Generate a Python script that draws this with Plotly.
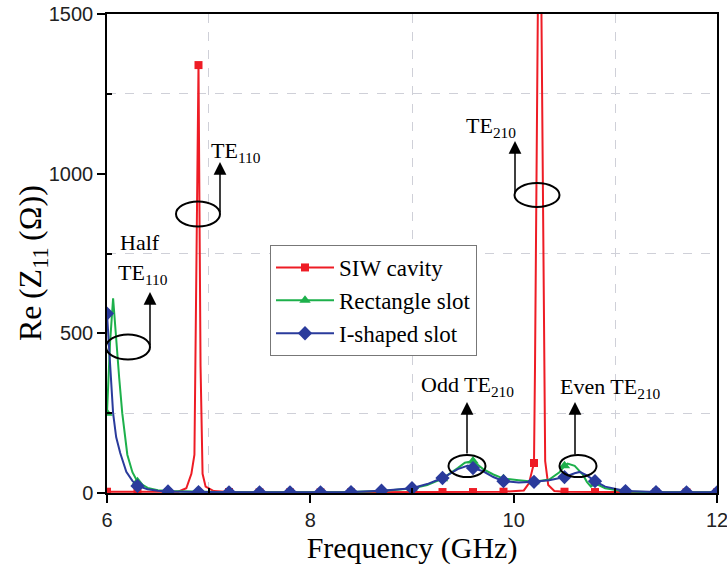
import plotly.graph_objects as go

# ---------------- data ----------------
siw_f = [6.0, 6.3, 6.6, 6.7, 6.78, 6.83, 6.86, 6.9, 6.92, 6.94, 6.97, 7.05, 7.2, 7.5, 7.8, 8.1, 8.4, 8.7,
         9.0, 9.3, 9.6, 9.9, 10.1, 10.15, 10.2, 10.21, 10.255, 10.3, 10.31, 10.34, 10.4, 10.5, 10.8,
         11.1, 11.4, 11.7, 12.0]
siw_v = [4, 3, 2, 4, 15, 60, 120, 1340, 400, 60, 20, 6, 3, 2, 2, 2, 2, 2,
         2, 3, 3, 4, 8, 30, 94, 400, 2200, 400, 100, 25, 6, 4, 3,
         2, 2, 2, 2]

rect_f = [6.0, 6.03, 6.06, 6.09, 6.12, 6.15, 6.2, 6.25, 6.3, 6.4, 6.5, 6.6, 6.9, 7.2, 7.5, 7.8, 8.1, 8.4,
          8.7, 9.0, 9.15, 9.3, 9.45, 9.52, 9.6, 9.7, 9.8, 9.9, 10.05, 10.2, 10.35, 10.45, 10.5, 10.53,
          10.6, 10.68, 10.72, 10.76, 10.8, 10.9, 11.1, 11.4, 11.7, 12.0]
rect_v = [250, 470, 610, 470, 360, 250, 120, 65, 35, 16, 9, 6, 3, 2, 2, 2, 2, 3,
          6, 14, 25, 45, 78, 95, 100, 75, 58, 45, 40, 35, 42, 65, 85, 92,
          85, 58, 35, 20, 30, 15, 5, 2, 2, 2]

ish_f = [6.0, 6.03, 6.06, 6.09, 6.13, 6.19, 6.25, 6.3, 6.4, 6.5, 6.6, 6.9, 7.2, 7.5, 7.8, 8.1, 8.4,
         8.7, 9.0, 9.15, 9.3, 9.45, 9.55, 9.6, 9.7, 9.8, 9.9, 10.05, 10.2, 10.35, 10.5, 10.6, 10.65,
         10.72, 10.8, 10.9, 11.1, 11.4, 11.7, 12.0]
ish_v = [562, 406, 250, 175, 125, 66, 38, 22, 12, 7, 5, 3, 2, 2, 2, 2, 3,
         7, 15, 28, 47, 75, 86, 78, 68, 50, 37, 33, 35, 40, 50, 62, 66,
         55, 37, 20, 6, 3, 2, 2]

marker_f = [round(6.0 + 0.3 * k, 1) for k in range(21)]

x_ticks = [6, 8, 10, 12]
y_ticks = [0, 500, 1000, 1500]

series = [
    ("SIW cavity", siw_f, siw_v, "#ee1c25", "square", 8),
    ("Rectangle slot", rect_f, rect_v, "#1db04b", "triangle-up", 10),
    ("I-shaped slot", ish_f, ish_v, "#2a3b9c", "diamond", 11),
]

fig = go.Figure()
for name, f, v, col, sym, ms in series:
    fig.add_trace(go.Scatter(x=f, y=v, mode="lines", line=dict(color=col, width=2),
                             showlegend=False, hoverinfo="skip"))
    mx = [a for a in f if round(a, 2) in marker_f]
    my = [b for a, b in zip(f, v) if round(a, 2) in marker_f]
    fig.add_trace(go.Scatter(x=mx, y=my, mode="markers",
                             marker=dict(color=col, symbol=sym, size=ms), showlegend=False))
    fig.add_trace(go.Scatter(x=[None], y=[None], mode="lines+markers", name=name,
                             line=dict(color=col, width=2),
                             marker=dict(color=col, symbol=sym, size=ms)))

# ---------------- layout helpers (pixel -> data / paper) ----------------
W, H = 727, 573
L, R, T, B = 107, 717, 14, 493
def px_x(p):
    return 6 + (p - L) / (R - L) * 6
def px_y(p):
    return (B - p) / (B - T) * 1500

serif = "Liberation Serif, Times New Roman, serif"

ellipses = [(128, 347, 44, 25), (198, 214, 44, 25), (537, 195, 45, 24),
            (467, 466, 37, 22), (578, 466, 37, 22)]
for cx, cy, w, h in ellipses:
    fig.add_shape(type="circle", xref="x", yref="y",
                  x0=px_x(cx - w / 2), x1=px_x(cx + w / 2),
                  y0=px_y(cy + h / 2), y1=px_y(cy - h / 2),
                  line=dict(color="black", width=2))

# arrows: (x, tail_y, tip_y)
arrows = [(150, 347, 292), (220, 214, 162), (515, 195, 141), (467, 455, 402), (575, 456, 402)]
for ax_, y0, y1 in arrows:
    fig.add_annotation(x=px_x(ax_), y=px_y(y1), xref="x", yref="y", text="",
                       showarrow=True, ax=0, ay=(y0 - y1), axref="pixel", ayref="pixel",
                       arrowhead=2, arrowsize=1.7, arrowwidth=1.5, arrowcolor="black")

labels = [
    ("Half", 140, 242),
    ("TE<sub>110</sub>", 143, 274),
    ("TE<sub>110</sub>", 236, 152),
    ("TE<sub>210</sub>", 491, 127),
    ("Odd TE<sub>210</sub>", 467, 386),
    ("Even TE<sub>210</sub>", 610, 388),
]
for txt, x, y in labels:
    fig.add_annotation(x=px_x(x), y=px_y(y), xref="x", yref="y", text=txt, showarrow=False,
                       font=dict(family=serif, size=22, color="black"))

# y-axis title placed as rotated text
fig.add_annotation(x=(32 - L) / (R - L), y=(B - 263) / (B - T), xref="paper", yref="paper",
                   yanchor="middle", xanchor="center",
                   text="Re\u2009(Z<sub>11</sub>\u2009(Ω))", textangle=-90, showarrow=False,
                   font=dict(family=serif, size=32, color="black"))

axis_common = dict(showline=True, linecolor="black", linewidth=1.5, mirror=True,
                   ticks="outside", ticklen=8, tickwidth=1.5, tickcolor="black",
                   showgrid=False, zeroline=False, automargin=False, ticklabeloverflow="allow",
                   tickfont=dict(family="Liberation Sans, Arial, sans-serif", size=20, color="#222222"))

fig.update_xaxes(range=[6, 12], tickvals=x_ticks, ticktext=[str(t) for t in x_ticks],
                 title=dict(text="Frequency (GHz)", font=dict(family=serif, size=30, color="black"),
                            standoff=6),
                 minor=dict(tickvals=[7, 9, 11], ticks="inside", ticklen=5, tickcolor="black",
                            showgrid=True, gridcolor="#cfd0d8", griddash="dash", gridwidth=1),
                 **axis_common)
fig.update_yaxes(range=[0, 1500], tickvals=y_ticks, ticktext=[str(t) for t in y_ticks],
                 minor=dict(tickvals=[250, 750, 1250], ticks="inside", ticklen=5, tickcolor="black",
                            showgrid=True, gridcolor="#cfd0d8", griddash="dash", gridwidth=1),
                 **axis_common)

fig.update_layout(
    width=W, height=H,
    margin=dict(l=L, r=W - R, t=T, b=H - B),
    paper_bgcolor="white", plot_bgcolor="white",
    legend=dict(x=(270 - L) / (R - L), y=(B - 245) / (B - T), xanchor="left", yanchor="top",
                bgcolor="white", bordercolor="#777777", borderwidth=1,
                font=dict(family=serif, size=23, color="black"),
                tracegroupgap=0, itemwidth=58),
)

fig.write_html("out.html")
